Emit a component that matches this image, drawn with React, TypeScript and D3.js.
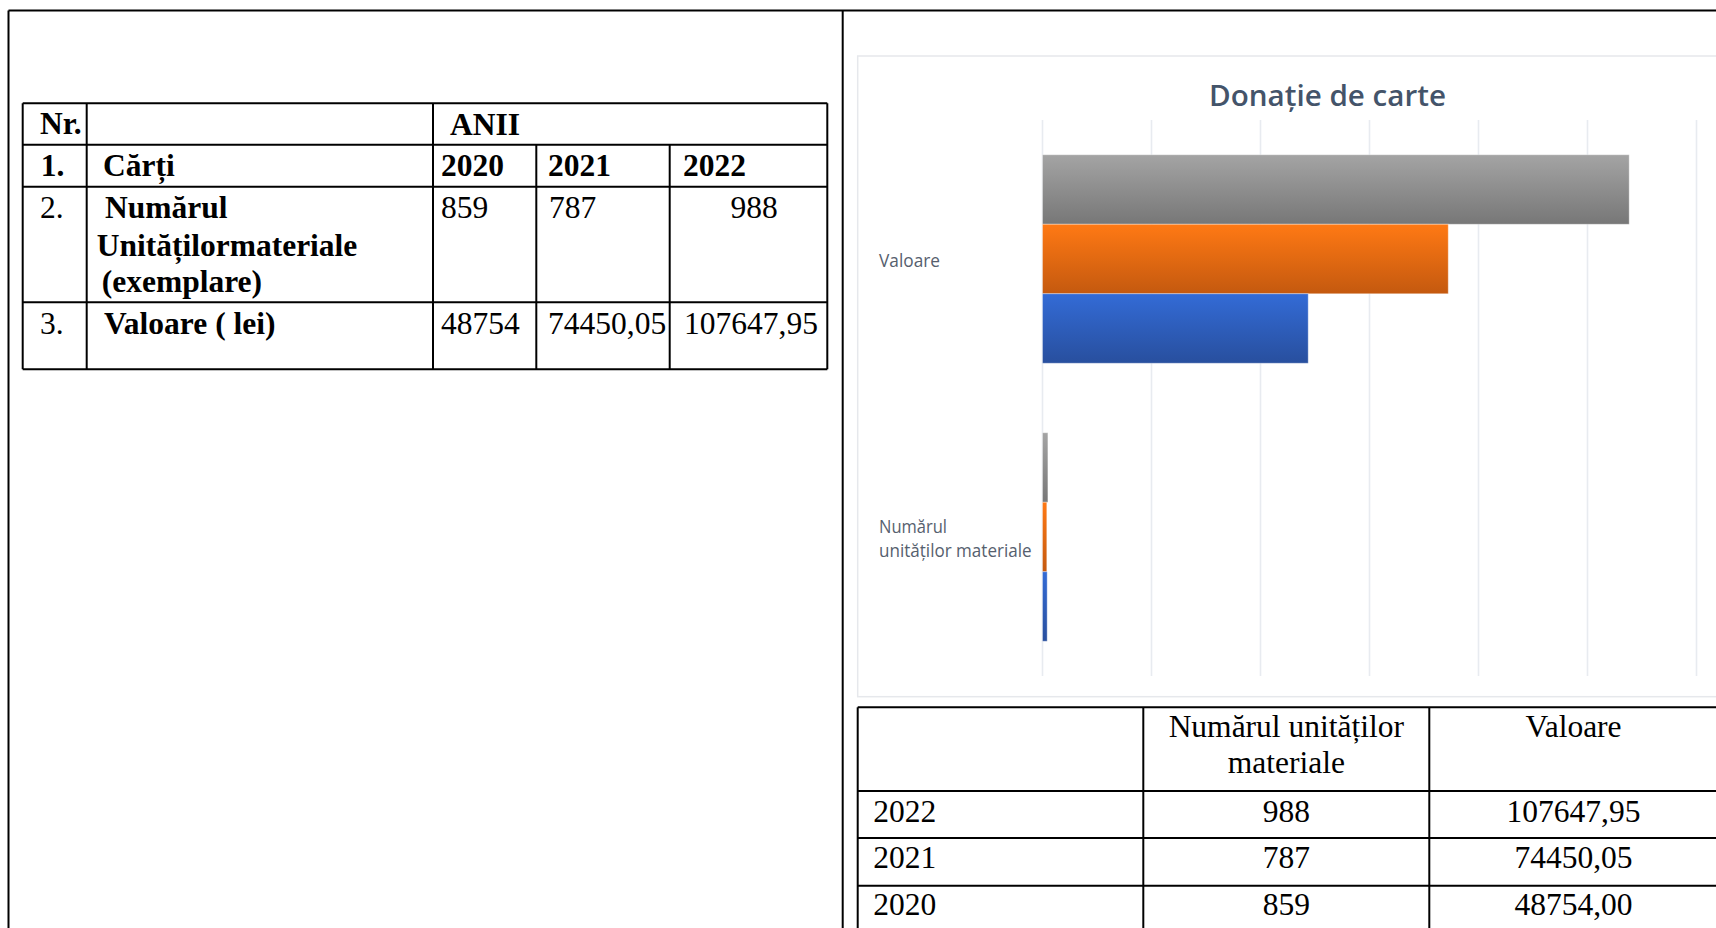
import React from "react";
import * as d3 from "d3";

// ---------- DATA ----------
const years = ["2020", "2021", "2022"];
const numarUnitati = [859, 787, 988];
const valoare = [48754, 74450.05, 107647.95];
const valoareTextTop = ["48754", "74450,05", "107647,95"];
const valoareTextBottom = ["48754,00", "74450,05", "107647,95"];
const categories = ["Valoare", "Numărul unităților materiale"];
const categoryLines = [["Valoare"], ["Numărul", "unităților materiale"]];
const xTicks = [0, 20000, 40000, 60000, 80000, 100000, 120000];
const seriesOrderTopToBottom = ["2022", "2021", "2020"];

const W = 1716;
const H = 928;

const serif = "'Liberation Serif', 'Times New Roman', serif";
const sans = "'Open Sans', 'Noto Sans', sans-serif";

const gradients: Record<string, [string, string]> = {
  "2020": ["#336bd6", "#284f9e"],
  "2021": ["#ff7914", "#c4590f"],
  "2022": ["#a4a4a4", "#777777"],
};

function LeftTable() {
  const cols = [22.7, 86.7, 433, 536.3, 669.7, 827.3];
  const rows = [103.3, 144.7, 186.7, 302.3, 369.3];
  const fs = 31.5;
  const sw = 2;
  const lines: React.ReactNode[] = [];
  rows.forEach((y, i) =>
    lines.push(<line key={"h" + i} x1={cols[0]} x2={cols[5]} y1={y} y2={y} stroke="#000" strokeWidth={sw} />)
  );
  [0, 1, 2, 5].forEach((ci) =>
    lines.push(<line key={"v" + ci} x1={cols[ci]} x2={cols[ci]} y1={rows[0]} y2={rows[4]} stroke="#000" strokeWidth={sw} />)
  );
  [3, 4].forEach((ci) =>
    lines.push(<line key={"v" + ci} x1={cols[ci]} x2={cols[ci]} y1={rows[1]} y2={rows[4]} stroke="#000" strokeWidth={sw} />)
  );
  const t = (x: number, y: number, s: string, bold = false, anchor: "start" | "middle" = "start") => (
    <text x={x} y={y} fontFamily={serif} fontSize={fs} fontWeight={bold ? "bold" : "normal"} textAnchor={anchor} fill="#000">
      {s}
    </text>
  );
  const yearX = [441, 548, 683];
  const numX = [441, 549, null];
  const valX = [441, 548, 684];
  return (
    <g>
      {lines}
      {t(40, 134.3, "Nr.", true)}
      {t(450, 135, "ANII", true)}
      {t(40.7, 176, "1.", true)}
      {t(103, 176, "Cărți", true)}
      {years.map((y, i) => (
        <React.Fragment key={"y" + y}>{t(yearX[i], 176, y, true)}</React.Fragment>
      ))}
      {t(40, 218.3, "2.")}
      {t(105, 218.3, "Numărul", true)}
      {t(96.7, 255.5, "Unitățilormateriale", true)}
      {t(101.7, 292, "(exemplare)", true)}
      {numarUnitati.map((v, i) => (
        <React.Fragment key={"n" + i}>
          {numX[i] !== null ? t(numX[i] as number, 218.3, String(v)) : t(754, 218.3, String(v), false, "middle")}
        </React.Fragment>
      ))}
      {t(40, 334, "3.")}
      {t(104, 334, "Valoare ( lei)", true)}
      {valoareTextTop.map((s, i) => (
        <React.Fragment key={"v" + i}>{t(valX[i], 334, s)}</React.Fragment>
      ))}
    </g>
  );
}

function Chart() {
  const x = d3.scaleLinear().domain([0, 120000]).range([1042.5, 1696.5]);
  const y0 = d3.scaleBand<string>().domain(categories).range([120, 676]).padding(0);
  const bw = y0.bandwidth();
  const y1 = d3.scaleBand<string>().domain(seriesOrderTopToBottom).range([bw / 8, (bw * 7) / 8]).padding(0);
  const seriesValues: Record<string, number[]> = {};
  years.forEach((yr, i) => {
    seriesValues[yr] = [valoare[i], numarUnitati[i]];
  });
  return (
    <g>
      <defs>
        {Object.entries(gradients).map(([k, [c1, c2]]) => (
          <linearGradient key={k} id={"g" + k} x1="0" y1="0" x2="0" y2="1">
            <stop offset="0%" stopColor={c1} />
            <stop offset="100%" stopColor={c2} />
          </linearGradient>
        ))}
      </defs>
      <rect x={857.7} y={56} width={900} height={640.7} fill="#fff" stroke="#e6e8ec" strokeWidth={1.5} />
      <text x={1327.5} y={105.7} textAnchor="middle" fontFamily={sans} fontSize={28} fontWeight={600} fill="#44546a" textLength={237} lengthAdjust="spacingAndGlyphs">
        Donație de carte
      </text>
      {xTicks.map((tk) => (
        <line key={tk} x1={x(tk)} x2={x(tk)} y1={120} y2={676} stroke="#e8ebf0" strokeWidth={1.6} />
      ))}
      {categories.map((c, ci) => (
        <g key={c}>
          {seriesOrderTopToBottom.map((yr) => (
            <rect
              key={yr}
              x={x(0)}
              y={(y0(c) as number) + (y1(yr) as number)}
              width={x(seriesValues[yr][ci]) - x(0)}
              height={y1.bandwidth()}
              fill={`url(#g${yr})`}
              stroke="#ffffff"
              strokeOpacity={0.35}
              strokeWidth={1}
            />
          ))}
        </g>
      ))}
      <text x={879} y={266.7} fontFamily={sans} fontSize={18} fill="#56606e" textLength={61} lengthAdjust="spacingAndGlyphs">
        {categoryLines[0][0]}
      </text>
      <text x={879} y={532.7} fontFamily={sans} fontSize={18} fill="#56606e" textLength={68} lengthAdjust="spacingAndGlyphs">
        {categoryLines[1][0]}
      </text>
      <text x={879} y={556.7} fontFamily={sans} fontSize={18} fill="#56606e" textLength={152.6} lengthAdjust="spacingAndGlyphs">
        {categoryLines[1][1]}
      </text>
    </g>
  );
}

function BottomTable() {
  const cols = [857.7, 1143.3, 1429.3, 1718];
  const rows = [707.3, 791, 838, 885.7, 933];
  const fs = 31.5;
  const sw = 2;
  const order = [2, 1, 0];
  const t = (x: number, y: number, s: string, anchor: "start" | "middle" = "start") => (
    <text x={x} y={y} fontFamily={serif} fontSize={fs} textAnchor={anchor} fill="#000">
      {s}
    </text>
  );
  return (
    <g>
      {rows.map((y, i) => (
        <line key={"h" + i} x1={cols[0]} x2={cols[3]} y1={y} y2={y} stroke="#000" strokeWidth={sw} />
      ))}
      {cols.map((x, i) => (
        <line key={"v" + i} x1={x} x2={x} y1={rows[0]} y2={rows[4]} stroke="#000" strokeWidth={sw} />
      ))}
      {t(1286.3, 736.7, "Numărul unităților", "middle")}
      {t(1286.3, 773.3, "materiale", "middle")}
      {t(1573.5, 736.7, "Valoare", "middle")}
      {order.map((idx, r) => {
        const by = [821.7, 868.3, 915][r];
        return (
          <g key={idx}>
            {t(873.3, by, years[idx])}
            {t(1286.3, by, String(numarUnitati[idx]), "middle")}
            {t(1573.5, by, valoareTextBottom[idx], "middle")}
          </g>
        );
      })}
    </g>
  );
}

export default function App() {
  return (
    <svg
      width={W}
      height={H}
      viewBox={`0 0 ${W} ${H}`}
      style={{ position: "absolute", left: 0, top: 0, background: "#fff" }}
    >
      <rect x={0} y={0} width={W} height={H} fill="#fff" />
      <line x1={8.5} x2={W + 2} y1={10.5} y2={10.5} stroke="#000" strokeWidth={2} />
      <line x1={8.5} x2={8.5} y1={10.5} y2={H + 2} stroke="#000" strokeWidth={2} />
      <line x1={842.7} x2={842.7} y1={10.5} y2={H + 2} stroke="#000" strokeWidth={2} />
      <LeftTable />
      <Chart />
      <BottomTable />
    </svg>
  );
}
